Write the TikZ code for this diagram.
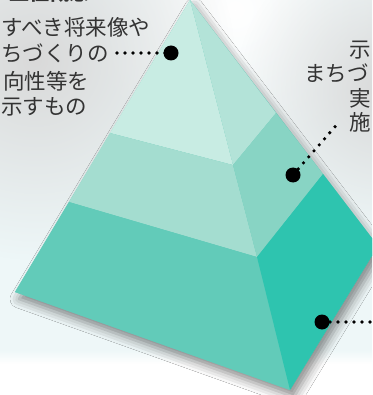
\documentclass[tikz,border=0pt]{standalone}
\usepackage{fontspec}
\newfontfamily\cjk{Noto Sans CJK JP}
\usetikzlibrary{fadings,shadows.blur}
\definecolor{bgc}{HTML}{EEF7F8}
\definecolor{topL}{HTML}{C8ECE3}
\definecolor{topR}{HTML}{B3E3D8}
\definecolor{midL}{HTML}{A4DDD0}
\definecolor{midR}{HTML}{88D4C4}
\definecolor{botL}{HTML}{62CBB9}
\definecolor{botR}{HTML}{2EC4AF}
\definecolor{txt}{HTML}{333333}
\tikzfading[name=softc, inner color=transparent!0, outer color=transparent!100]
\tikzset{
  lbl/.style={font=\cjk\fontsize{21.5}{21.5}\selectfont, text=txt, inner sep=0pt},
  bigdot/.style={circle, fill=black, inner sep=0pt, minimum size=15pt},
  dotline/.style={line width=3.6pt, line cap=round, dash pattern=on 0pt off 8pt, black}
}
\begin{document}
\begin{tikzpicture}[x=1pt,y=-1pt]
\useasboundingbox (0,0) rectangle (372,395);
\begin{scope}
\clip (0,0) rectangle (372,395);
% background
\fill[bgc] (0,0) rectangle (372,395);
\shade[top color=bgc, bottom color=white] (0,350) rectangle (372,364);
\fill[white] (0,364) rectangle (372,395);
\fill[white, path fading=softc] (235,10) circle (150);
\fill[gray!30, path fading=softc] (35,60) circle (200);
\fill[gray!30, path fading=softc] (385,90) circle (150);
% pyramid coordinates
\coordinate (A) at (190,0);
\coordinate (L) at (15,292);
\coordinate (F) at (290,390);
\coordinate (R) at (378,246);
\coordinate (Q1) at (110,133);
\coordinate (Q2) at (69,202);
\coordinate (P1) at (233,165);
\coordinate (P2) at (257,257);
\coordinate (S1) at (276,113);
\coordinate (S2) at (323,174);
% shadow
\fill[blur shadow={shadow xshift=4pt, shadow yshift=-7pt, shadow blur radius=9pt, shadow opacity=45}, fill=botL] (A) -- (L) -- (F) -- (R) -- cycle;
% faces
\fill[topL] (A) -- (Q1) -- (P1) -- cycle;
\fill[topR] (A) -- (P1) -- (S1) -- cycle;
\fill[midL] (Q1) -- (Q2) -- (P2) -- (P1) -- cycle;
\fill[midR] (P1) -- (P2) -- (S2) -- (S1) -- cycle;
\fill[botL] (Q2) -- (L) -- (F) -- (P2) -- cycle;
\fill[botR] (P2) -- (F) -- (R) -- (S2) -- cycle;
% texts
\node[lbl, font=\cjk\bfseries\fontsize{20}{20}\selectfont, anchor=east] (t0) at (90,-7) {上位概念};
\node[lbl, anchor=west] (t1) at (1,27) {すべき将来像や};
\node[lbl, anchor=west] (t2) at (1,53) {ちづくりの};
\node[lbl, anchor=west] (t3) at (3,81) {向性等を};
\node[lbl, anchor=west] (t4) at (1,107) {示すもの};
\node[lbl, anchor=west] (r1) at (349,50) {示};
\node[lbl, anchor=west] (r2) at (304,73) {まちづ};
\node[lbl, anchor=west] (r3) at (349,98) {実};
\node[lbl, anchor=west] (r4) at (349,122) {施};
% dots and connectors
\node[bigdot] (d1) at (171,53) {};
\node[bigdot] (d2) at (293,175) {};
\node[bigdot] (d3) at (322,322) {};
\coordinate (e1) at (117,53);
\coordinate (e2) at (340,121);
\coordinate (e3) at (378,322);
\draw[dotline] (e1) -- (d1.center);
\draw[dotline] (d2.center) -- (e2);
\draw[dotline] (d3.center) -- (e3);
\end{scope}
\end{tikzpicture}
\end{document}
